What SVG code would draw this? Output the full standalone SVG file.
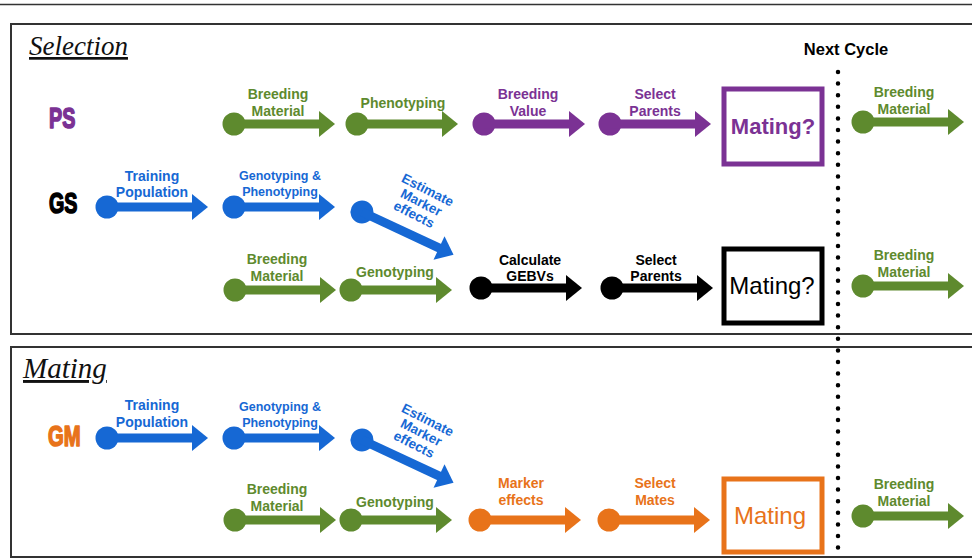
<svg xmlns="http://www.w3.org/2000/svg" xmlns:xlink="http://www.w3.org/1999/xlink" width="972" height="559" viewBox="0 0 972 559">
<style>
text{font-family:"Liberation Sans",Arial,sans-serif;font-weight:bold;text-anchor:middle}
.lbl{font-size:14px}
.sm{font-size:12.5px}
.est{font-size:13.5px}
.g{fill:#5E8A2E;color:#5E8A2E}
.p{fill:#7B3294;color:#7B3294}
.b{fill:#1668D4;color:#1668D4}
.k{fill:#000;color:#000}
.o{fill:#E8731A;color:#E8731A}
.title{font-family:"Liberation Serif","Times New Roman",serif;font-style:italic;font-weight:normal;text-anchor:start;text-decoration:underline;fill:#111}
.tag{font-size:29px;text-anchor:start;stroke-width:1.6;stroke-linejoin:round}
.frame{fill:none;stroke:#333;stroke-width:2}
.mbox{fill:#fff;stroke-width:5}
.mt{font-size:24px;font-weight:normal}
</style>
<defs>
<g id="arr">
<circle cx="0" cy="0" r="11.5" fill="currentColor"/>
<rect x="0" y="-4.5" width="86" height="9" fill="currentColor"/>
<polygon points="85,-13 101,0 85,13" fill="currentColor"/>
</g>
</defs>
<rect width="972" height="559" fill="#fff"/>
<line x1="0" y1="4.5" x2="972" y2="4.5" stroke="#333" stroke-width="1.5"/>
<rect class="frame" x="11" y="24" width="980" height="310"/>
<rect class="frame" x="11" y="347" width="980" height="210"/>
<text class="title" x="29" y="55" font-size="27">Selection</text>
<text class="title" x="23" y="378" font-size="29">Mating</text>
<text x="846" y="55" font-size="16.5" fill="#000">Next Cycle</text>
<line x1="838" y1="72" x2="838" y2="552" stroke="#000" stroke-width="4.5" stroke-linecap="round" stroke-dasharray="0 11.6"/>

<g id="row-labels">
<text class="tag p" stroke="#7B3294" transform="translate(49,128) scale(0.68,1)">PS</text>
<text class="tag k" stroke="#000" transform="translate(49,213) scale(0.68,1)">GS</text>
<text class="tag o" stroke="#E8731A" transform="translate(48,446) scale(0.7,1)">GM</text>
</g>

<g id="connectors">
<use xlink:href="#arr" class="g" transform="translate(234,124)"/>
<use xlink:href="#arr" class="g" transform="translate(357,124)"/>
<use xlink:href="#arr" class="p" transform="translate(484,124)"/>
<use xlink:href="#arr" class="p" transform="translate(610,124)"/>
<use xlink:href="#arr" class="g" transform="translate(863,122)"/>

<use xlink:href="#arr" class="b" transform="translate(107,207)"/>
<use xlink:href="#arr" class="b" transform="translate(234,207)"/>
<use xlink:href="#arr" class="b" transform="translate(362,212) rotate(25)"/>

<use xlink:href="#arr" class="g" transform="translate(235,290)"/>
<use xlink:href="#arr" class="g" transform="translate(351,290)"/>
<use xlink:href="#arr" class="k" transform="translate(481,288)"/>
<use xlink:href="#arr" class="k" transform="translate(612,288)"/>
<use xlink:href="#arr" class="g" transform="translate(863,286)"/>

<use xlink:href="#arr" class="b" transform="translate(107,438)"/>
<use xlink:href="#arr" class="b" transform="translate(234,438)"/>
<use xlink:href="#arr" class="b" transform="translate(362,440) rotate(25)"/>

<use xlink:href="#arr" class="g" transform="translate(235,520)"/>
<use xlink:href="#arr" class="g" transform="translate(351,520)"/>
<use xlink:href="#arr" class="o" transform="translate(480,520)"/>
<use xlink:href="#arr" class="o" transform="translate(609,520)"/>
<use xlink:href="#arr" class="g" transform="translate(863,516)"/>
</g>

<g id="ps-breeding-material"><text class="lbl g" x="278" y="99">Breeding</text><text class="lbl g" x="278" y="116">Material</text></g>
<g id="ps-phenotyping"><text class="lbl g" x="403" y="108">Phenotyping</text></g>
<g id="ps-breeding-value"><text class="lbl p" x="528" y="99">Breeding</text><text class="lbl p" x="528" y="116">Value</text></g>
<g id="ps-select-parents"><text class="lbl p" x="655" y="99">Select</text><text class="lbl p" x="655" y="116">Parents</text></g>
<g id="ps-mating"><rect class="mbox" x="724" y="89" width="98" height="75" stroke="#7B3294"/><text class="p" x="773" y="134" font-size="22">Mating?</text></g>
<g id="ps-next"><text class="lbl g" x="904" y="97">Breeding</text><text class="lbl g" x="904" y="114">Material</text></g>

<g id="gs-training"><text class="lbl b" x="152" y="181">Training</text><text class="lbl b" x="152" y="197">Population</text></g>
<g id="gs-genopheno"><text class="sm b" x="280" y="180">Genotyping &amp;</text><text class="sm b" x="280" y="196">Phenotyping</text></g>
<g id="gs-estimate" transform="translate(421,203) rotate(27)"><text class="est b" x="0" y="-10">Estimate</text><text class="est b" x="0" y="4">Marker</text><text class="est b" x="-1" y="18">effects</text></g>
<g id="gs-breeding-material"><text class="lbl g" x="277" y="264">Breeding</text><text class="lbl g" x="277" y="281">Material</text></g>
<g id="gs-genotyping"><text class="lbl g" x="395" y="277">Genotyping</text></g>
<g id="gs-gebv"><text class="lbl k" x="530" y="265">Calculate</text><text class="lbl k" x="530" y="281">GEBVs</text></g>
<g id="gs-select-parents"><text class="lbl k" x="656" y="265">Select</text><text class="lbl k" x="656" y="281">Parents</text></g>
<g id="gs-mating"><rect class="mbox" x="724" y="249" width="98" height="74" stroke="#000"/><text class="mt k" x="772" y="294">Mating?</text></g>
<g id="gs-next"><text class="lbl g" x="904" y="260">Breeding</text><text class="lbl g" x="904" y="277">Material</text></g>

<g id="gm-training"><text class="lbl b" x="152" y="410">Training</text><text class="lbl b" x="152" y="427">Population</text></g>
<g id="gm-genopheno"><text class="sm b" x="280" y="411">Genotyping &amp;</text><text class="sm b" x="280" y="427">Phenotyping</text></g>
<g id="gm-estimate" transform="translate(421,433) rotate(27)"><text class="est b" x="0" y="-10">Estimate</text><text class="est b" x="0" y="4">Marker</text><text class="est b" x="-1" y="18">effects</text></g>
<g id="gm-breeding-material"><text class="lbl g" x="277" y="494">Breeding</text><text class="lbl g" x="277" y="511">Material</text></g>
<g id="gm-genotyping"><text class="lbl g" x="395" y="507">Genotyping</text></g>
<g id="gm-marker"><text class="lbl o" x="521" y="488">Marker</text><text class="lbl o" x="521" y="505">effects</text></g>
<g id="gm-select-mates"><text class="lbl o" x="655" y="488">Select</text><text class="lbl o" x="655" y="505">Mates</text></g>
<g id="gm-mating"><rect class="mbox" x="724" y="479" width="98" height="73" stroke="#E8731A"/><text class="mt o" x="770" y="524">Mating</text></g>
<g id="gm-next"><text class="lbl g" x="904" y="489">Breeding</text><text class="lbl g" x="904" y="506">Material</text></g>
</svg>
